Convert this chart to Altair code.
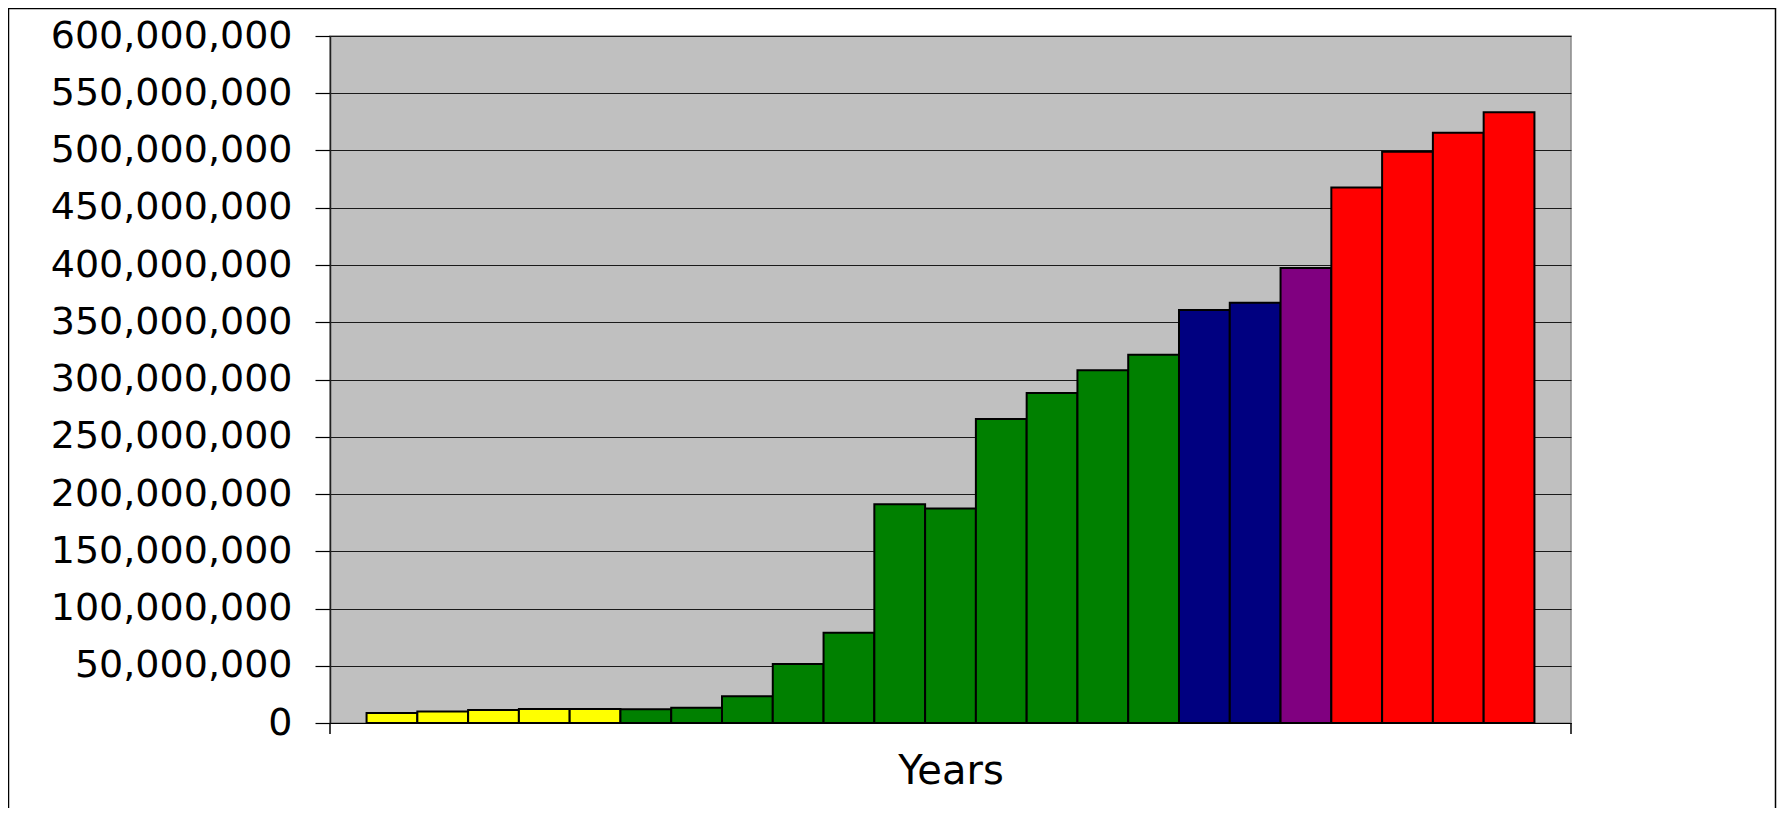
import altair as alt
import pandas as pd

# ---- data ----
bars = [f"Y{i:02d}" for i in range(1, 24)]
values = [8.7e6, 10.1e6, 11.3e6, 12.2e6, 12.2e6, 12.1e6, 13.4e6, 23.3e6,
          51.5e6, 78.8e6, 191.0e6, 187.3e6, 265.6e6, 288.3e6, 308.0e6,
          321.6e6, 360.6e6, 367.0e6, 397.3e6, 467.6e6, 499.0e6, 515.6e6,
          533.3e6]
groups = (["yellow"] * 5 + ["green"] * 11 + ["navy"] * 2 + ["purple"] * 1
          + ["red"] * 4)
group_names = ["yellow", "green", "navy", "purple", "red"]
group_colors = ["#FFFF00", "#008000", "#000080", "#800080", "#FF0000"]
y_ticks = list(range(0, 600_000_001, 50_000_000))

df = pd.DataFrame({"bar": bars, "value": values, "group": groups})

W, H = 1241, 687
FONT = "DejaVu Sans"

base = alt.Chart(df)

bar_layer = base.mark_bar(stroke="black", strokeWidth=2).encode(
    x=alt.X("bar:N", sort=bars,
            scale=alt.Scale(paddingInner=0, paddingOuter=0.72),
            axis=alt.Axis(title="Years", labels=False, ticks=False,
                          domain=True, domainColor="black", domainWidth=1,
                          titleFont=FONT, titleFontSize=40,
                          titleFontWeight="normal", titleColor="black",
                          titleBaseline="alphabetic", titleY=60)),
    y=alt.Y("value:Q",
            scale=alt.Scale(domain=[0, 600_000_000], nice=False),
            axis=alt.Axis(title=None, values=y_ticks, format=",d",
                          grid=True, gridColor="#1a1a1a", gridWidth=1.2,
                          tickSize=15, tickColor="black", tickWidth=1.2,
                          domain=True, domainColor="#202020", domainWidth=1.5,
                          labelFont=FONT, labelFontSize=38, labelLimit=0,
                          labelColor="black", labelPadding=23,
                          labelBaseline="middle")),
    color=alt.Color("group:N",
                    scale=alt.Scale(domain=group_names, range=group_colors),
                    legend=None),
)

one = alt.Chart(pd.DataFrame({"k": [0]}))

# outer frame around the whole picture (bottom edge falls off the page)
frame = one.mark_rect(filled=False, stroke="black", strokeWidth=1.5).encode(
    x=alt.value(-321.5), x2=alt.value(1445.5),
    y=alt.value(-27.5), y2=alt.value(900),
)

# small tick marks below the category axis at both plot edges
edge_left = one.mark_rule(color="black", strokeWidth=1.5).encode(
    x=alt.value(0), y=alt.value(H), y2=alt.value(H + 11))
edge_right = one.mark_rule(color="black", strokeWidth=1.5).encode(
    x=alt.value(W), y=alt.value(H), y2=alt.value(H + 11))

chart = alt.layer(bar_layer, edge_left, edge_right, frame).properties(
    width=W, height=H,
    autosize=alt.AutoSizeParams(type="none"),
    padding={"left": 322, "top": 28, "right": 206, "bottom": 85},
    background="white",
).configure_view(
    fill="#C0C0C0", stroke="#8a8a8a", strokeWidth=1.5,
)

chart.save("out.html", embed_options={"renderer": "svg", "actions": False})
